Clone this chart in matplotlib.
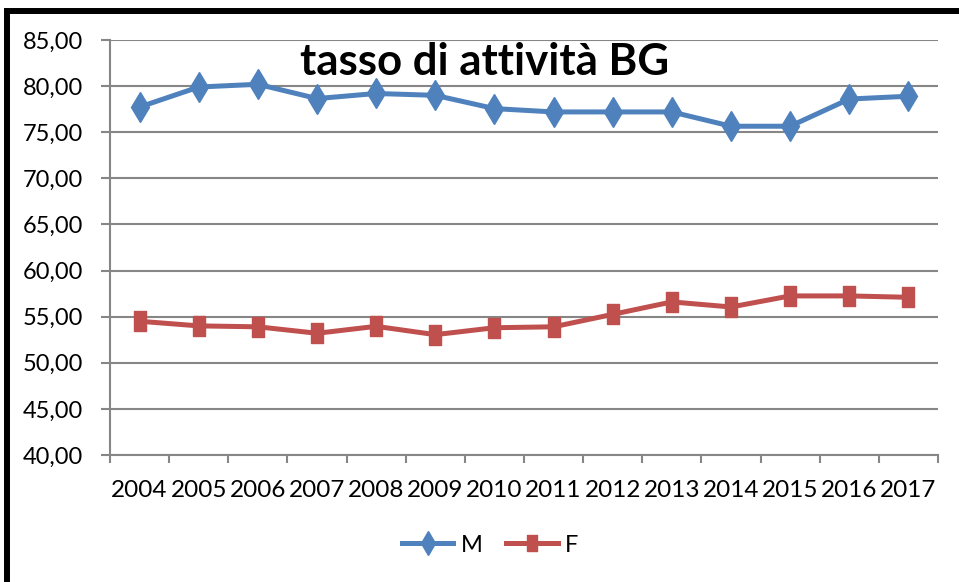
import matplotlib
matplotlib.use("Agg")
import matplotlib.pyplot as plt
import matplotlib.patches as mpatches
from matplotlib.ticker import FuncFormatter, FixedLocator

years = ["2004", "2005", "2006", "2007", "2008", "2009", "2010",
         "2011", "2012", "2013", "2014", "2015", "2016", "2017"]
male = [77.73, 79.9, 80.2, 78.65, 79.2, 79.0, 77.56,
        77.2, 77.2, 77.2, 75.65, 75.65, 78.6, 78.9]
female = [54.5, 54.0, 53.9, 53.2, 53.95, 53.05, 53.8,
          53.9, 55.25, 56.6, 56.05, 57.25, 57.25, 57.1]
title = "tasso di attività BG"

plt.rcParams['font.family'] = ['Lato', 'DejaVu Sans']

fig = plt.figure(figsize=(9.59, 5.82), dpi=100)
ax = fig.add_axes([110/959, 1-455/582, (938-110)/959, (455-40)/582])

x = list(range(len(years)))
blue = "#4F81BD"
red = "#C0504D"
rect_marker = [(-0.3, -0.5), (0.3, -0.5), (0.3, 0.5), (-0.3, 0.5), (-0.3, -0.5)]

ax.plot(x, male, color=blue, lw=3.6, marker='d', markersize=15,
        markerfacecolor=blue, markeredgecolor=blue, label="M", zorder=3)
ax.plot(x, female, color=red, lw=3.6, marker=rect_marker, markersize=15,
        markerfacecolor=red, markeredgecolor=red, label="F", zorder=3)

ax.set_ylim(40, 85)
ax.set_xlim(-0.5, len(years) - 0.5)
ax.set_yticks(range(40, 86, 5))
ax.yaxis.set_major_formatter(FuncFormatter(lambda v, p: f"{v:.2f}".replace(".", ",")))
ax.grid(axis='y', color="#868686", lw=1.5)
ax.set_axisbelow(True)

ax.xaxis.set_major_locator(FixedLocator([i - 0.5 for i in range(len(years) + 1)]))
ax.xaxis.set_minor_locator(FixedLocator(x))
ax.set_xticklabels([], minor=False)
ax.set_xticklabels(years, minor=True)
ax.tick_params(axis='x', which='major', length=6, width=1.5, color="#868686")
ax.tick_params(axis='x', which='minor', length=0, pad=18, labelsize=17.5)
ax.tick_params(axis='y', length=6.5, width=1.5, color="#868686", pad=13, labelsize=17)

for s in ['top', 'right']:
    ax.spines[s].set_visible(False)
for s in ['left', 'bottom']:
    ax.spines[s].set_color("#868686")
    ax.spines[s].set_linewidth(1.5)

fig.text(485/959, 1-62/582, title, ha='center', va='center',
         fontsize=31.5, fontweight='bold', color='black')

leg = fig.legend(loc='center', bbox_to_anchor=(490/959, 1-545/582), ncol=2,
                 frameon=False, fontsize=17, handlelength=2.2,
                 columnspacing=1.0, handletextpad=0.3, markerscale=0.8)

border = mpatches.Rectangle((7/959, -0.1), 1.2, (582-10.5)/582 + 0.1,
                            transform=fig.transFigure, fill=False,
                            lw=4.3, edgecolor='black')
fig.patches.append(border)

fig.savefig("out.png", dpi=100)
